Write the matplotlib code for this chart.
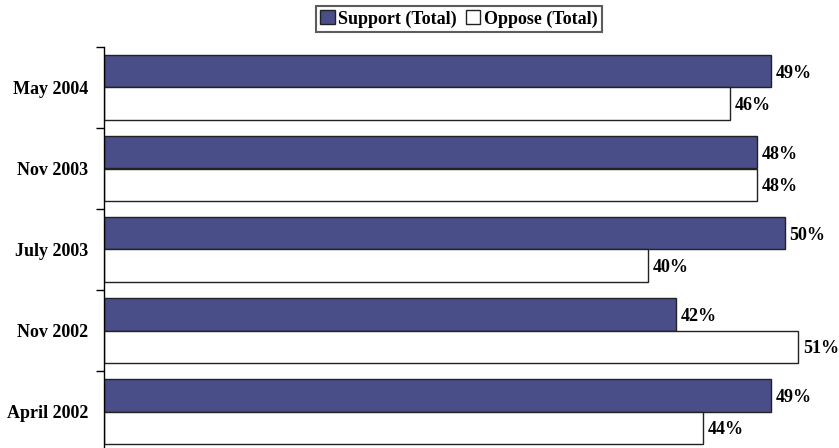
import matplotlib
matplotlib.use('Agg')
import matplotlib.pyplot as plt
import numpy as np

categories = ['April 2002', 'Nov 2002', 'July 2003', 'Nov 2003', 'May 2004']
support = [49, 42, 50, 48, 49]
oppose = [44, 51, 40, 48, 46]
series_names = ['Support (Total)', 'Oppose (Total)']

plt.rcParams['font.family'] = ['Liberation Serif', 'DejaVu Serif']
plt.rcParams['font.weight'] = 'bold'

fig = plt.figure(figsize=(8.39, 4.48), dpi=100)
ax = fig.add_axes([104/839, -4/448, 1 - 104/839, 405/448])

y = np.arange(len(categories))
h = 0.4
b1 = ax.barh(y + h/2, support, height=h, color='#4A4E88', edgecolor='#222222', linewidth=1, label=series_names[0])
b2 = ax.barh(y - h/2, oppose, height=h, color='white', edgecolor='#222222', linewidth=1, label=series_names[1])

# value labels just right of each bar
for bars, vals in ((b1, support), (b2, oppose)):
    for bar, v in zip(bars, vals):
        ax.text(v + 0.35, bar.get_y() + bar.get_height()/2, f'{v}%',
                va='center_baseline', ha='left', fontsize=13, fontweight='bold')

ax.set_xlim(0, 54)
ax.set_ylim(-0.5, len(categories) - 0.5)
# tick marks between groups, labels at group centres
ax.set_yticks(np.arange(len(categories) + 1) - 0.5)
ax.set_yticklabels([])
ax.set_yticks(y, minor=True)
ax.set_yticklabels(categories, minor=True, fontsize=13, fontweight='bold')
ax.tick_params(axis='y', which='minor', length=0, pad=11.5)
ax.tick_params(axis='y', which='major', length=6, width=1)
ax.set_xticks([])
for s in ('top', 'right', 'bottom'):
    ax.spines[s].set_visible(False)
ax.spines['left'].set_linewidth(1)

leg = fig.legend(handles=[b1, b2], loc='center', bbox_to_anchor=(459/839, 1 - 19/448),
                 ncol=2, fontsize=13, frameon=True, fancybox=False,
                 handlelength=0.8, handleheight=0.8, handletextpad=0.2,
                 columnspacing=0.5, borderpad=0.25, borderaxespad=0)
leg.get_frame().set_edgecolor('#333333')
leg.get_frame().set_linewidth(1.5)
for t in leg.get_texts():
    t.set_fontweight('bold')

fig.savefig('out.png', dpi=100)
